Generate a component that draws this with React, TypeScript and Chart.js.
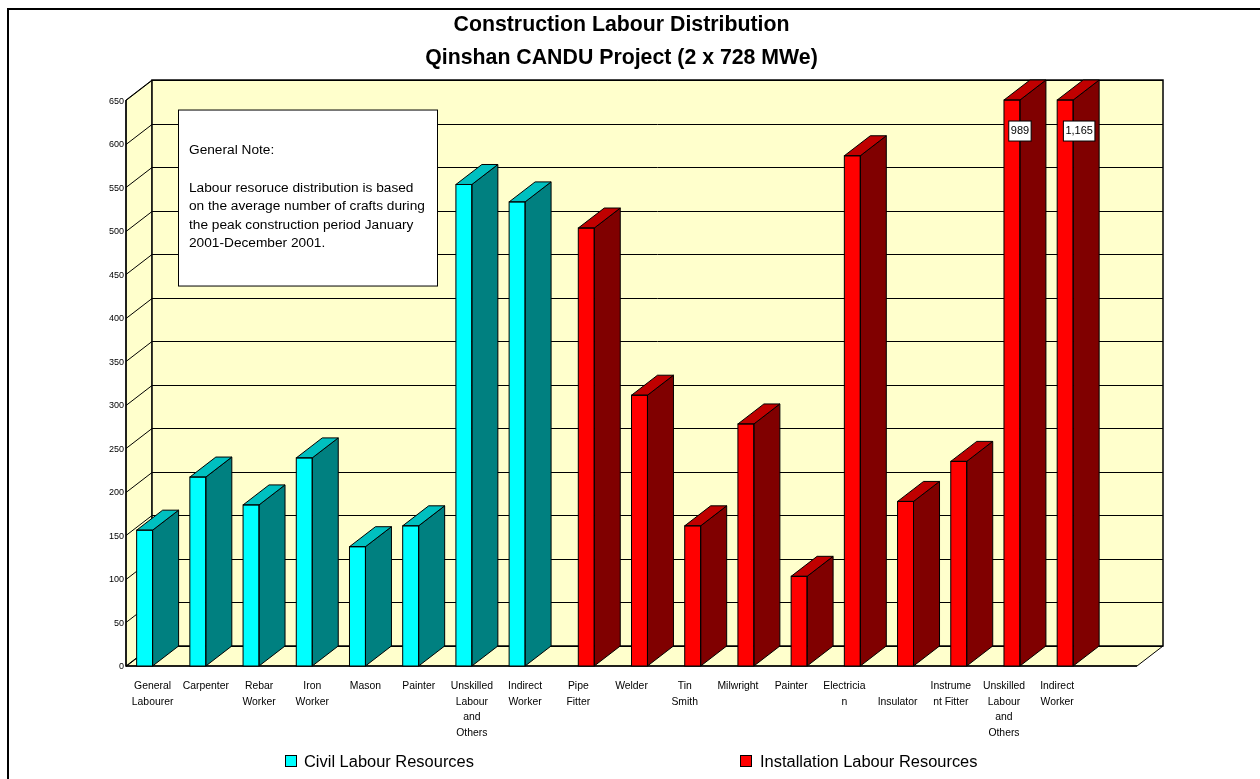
import React, { useEffect, useRef } from "react";
import { Chart, registerables } from "chart.js";

Chart.register(...registerables);

const categories: (string | string[])[] = [
  ["General", "Labourer"], "Carpenter", ["Rebar", "Worker"], ["Iron", "Worker"], "Mason", "Painter",
  ["Unskilled", "Labour", "and", "Others"], ["Indirect", "Worker"],
  ["Pipe", "Fitter"], "Welder", ["Tin", "Smith"], "Milwright", "Painter", ["Electricia", "n"],
  ["", "Insulator"], ["Instrume", "nt Fitter"], ["Unskilled", "Labour", "and", "Others"], ["Indirect", "Worker"],
  "",
];
const civilValues = [156, 217, 185, 239, 137, 161, 553, 533, null, null, null, null, null, null, null, null, null, null, null];
const installationValues = [null, null, null, null, null, null, null, null, 503, 311, 161, 278, 103, 586, 189, 235, 989, 1165, null];
const titleLines = ["Construction Labour Distribution", "Qinshan CANDU Project (2 x 728 MWe)"];
const noteLines = [
  "General Note:",
  "",
  "Labour resoruce distribution is based",
  "on the average number of crafts during",
  "the peak construction period January",
  "2001-December 2001.",
];
const seriesNames = ["Civil Labour Resources", "Installation Labour Resources"];

const FONT = "'Liberation Sans', Arial, sans-serif";
const DX = 26;
const DY = -20;
const WALL = "#FFFFCC";
const sideColors = ["#008080", "#800000"];
const topColors = ["#00C0C0", "#C00000"];

function poly(ctx: CanvasRenderingContext2D, pts: number[][], fill: string | null, lw = 1) {
  ctx.beginPath();
  pts.forEach((p, i) => (i ? ctx.lineTo(p[0], p[1]) : ctx.moveTo(p[0], p[1])));
  ctx.closePath();
  if (fill) {
    ctx.fillStyle = fill;
    ctx.fill();
  }
  ctx.lineWidth = lw;
  ctx.strokeStyle = "#000";
  ctx.stroke();
}

const plugin3d = {
  id: "plugin3d",
  afterLayout(chart: any) {
    // the title is centred on the drawing, not on the plot area
    if (chart.titleBlock) {
      chart.titleBlock.left += 53;
      chart.titleBlock.right += 53;
    }
  },
  beforeDraw(chart: any) {
    const { ctx } = chart;
    ctx.save();
    ctx.lineWidth = 2;
    ctx.strokeStyle = "#000";
    ctx.beginPath();
    ctx.moveTo(8, 779);
    ctx.lineTo(8, 9);
    ctx.lineTo(1260, 9);
    ctx.stroke();
    ctx.restore();
  },
  beforeDatasetsDraw(chart: any) {
    const { ctx, chartArea: a, scales } = chart;
    const y = scales.y;
    ctx.save();
    // floor, left wall, back wall
    poly(ctx, [[a.left, a.bottom], [a.right, a.bottom], [a.right + DX, a.bottom + DY], [a.left + DX, a.bottom + DY]], WALL);
    poly(ctx, [[a.left, a.top], [a.left + DX, a.top + DY], [a.left + DX, a.bottom + DY], [a.left, a.bottom]], WALL);
    ctx.fillStyle = WALL;
    ctx.fillRect(a.left + DX, a.top + DY, a.right - a.left, a.bottom - a.top);
    ctx.strokeStyle = "#000";
    ctx.lineWidth = 1;
    y.ticks.forEach((t: any) => {
      const py = Math.round(y.getPixelForValue(t.value)) + 0.5;
      ctx.beginPath();
      ctx.moveTo(a.left, py);
      ctx.lineTo(a.left + DX, py + DY);
      ctx.lineTo(a.right + DX, py + DY);
      ctx.stroke();
    });
    ctx.lineWidth = 1.5;
    ctx.strokeRect(a.left + DX, a.top + DY, a.right - a.left, a.bottom - a.top);
    ctx.beginPath();
    ctx.moveTo(a.left, a.top);
    ctx.lineTo(a.left, a.bottom);
    ctx.lineTo(a.right, a.bottom);
    ctx.stroke();
    ctx.restore();
  },
  afterDatasetsDraw(chart: any) {
    const { ctx, chartArea: a } = chart;
    ctx.save();
    chart.data.datasets.forEach((ds: any, di: number) => {
      chart.getDatasetMeta(di).data.forEach((bar: any, i: number) => {
        if (ds.data[i] == null) return;
        const p = bar.getProps(["x", "y", "width", "base"], true);
        const l = p.x - p.width / 2;
        const r = p.x + p.width / 2;
        const top = Math.max(p.y, a.top);
        poly(ctx, [[r, top], [r + DX, top + DY], [r + DX, p.base + DY], [r, p.base]], sideColors[di]);
        poly(ctx, [[l, top], [l + DX, top + DY], [r + DX, top + DY], [r, top]], topColors[di]);
        ctx.lineWidth = 1;
        ctx.strokeStyle = "#000";
        ctx.strokeRect(l, top, p.width, p.base - top);
        // values above the axis are written on the bar
        if (ds.data[i] > chart.scales.y.max) {
          const label = ds.data[i].toLocaleString("en-US");
          ctx.font = `11px ${FONT}`;
          const w = ctx.measureText(label).width + 4;
          const cx = ds.data[i] > 1000 ? r + 6 : r;
          const cy = a.top + 31;
          ctx.fillStyle = "#fff";
          ctx.fillRect(cx - w / 2, cy - 10, w, 20);
          ctx.strokeRect(cx - w / 2, cy - 10, w, 20);
          ctx.fillStyle = "#000";
          ctx.textAlign = "center";
          ctx.textBaseline = "middle";
          ctx.fillText(label, cx, cy);
        }
      });
    });
    ctx.restore();
  },
  afterDraw(chart: any) {
    const { ctx, chartArea: a } = chart;
    ctx.save();
    // note box
    const nx = a.left + 52.5;
    const ny = a.top + 10;
    ctx.fillStyle = "#fff";
    ctx.fillRect(nx, ny, 259, 176);
    ctx.strokeStyle = "#000";
    ctx.lineWidth = 1;
    ctx.strokeRect(nx, ny, 259, 176);
    ctx.fillStyle = "#000";
    ctx.font = `13.7px ${FONT}`;
    ctx.textAlign = "left";
    ctx.textBaseline = "middle";
    noteLines.forEach((t, i) => ctx.fillText(t, nx + 10.5, ny + 40.5 + i * 18.6));
    // legend
    const legendX = [285, 740];
    chart.data.datasets.forEach((ds: any, di: number) => {
      ctx.fillStyle = ds.backgroundColor;
      ctx.fillRect(legendX[di] + 0.5, 755.5, 11, 11);
      ctx.strokeRect(legendX[di] + 0.5, 755.5, 11, 11);
      ctx.fillStyle = "#000";
      ctx.font = `16.45px ${FONT}`;
      ctx.fillText(ds.label, legendX[di] + (di ? 20 : 19), 762);
    });
    ctx.restore();
  },
};

export default function App() {
  const ref = useRef<HTMLCanvasElement>(null);
  useEffect(() => {
    const chart = new Chart(ref.current as HTMLCanvasElement, {
      type: "bar",
      data: {
        labels: categories as any,
        datasets: [
          { label: seriesNames[0], data: civilValues, backgroundColor: "#00FFFF" },
          { label: seriesNames[1], data: installationValues, backgroundColor: "#FF0000" },
        ],
      },
      plugins: [plugin3d as any],
      options: {
        animation: false,
        responsive: false,
        layout: { padding: { left: 0, right: 123, top: 0, bottom: 0 } },
        datasets: { bar: { categoryPercentage: 0.6, barPercentage: 1 } },
        plugins: {
          legend: { display: false },
          tooltip: { enabled: false },
          title: {
            display: true,
            text: titleLines,
            color: "#000",
            font: { family: FONT, size: 21.3, weight: "bold", lineHeight: 1.55 },
            padding: { top: 9, bottom: 25 },
            align: "center",
          },
        },
        scales: {
          x: {
            grid: { display: false, drawTicks: false },
            border: { display: false },
            afterFit: (s: any) => { s.height = 113; },
            ticks: {
              autoSkip: false, maxRotation: 0, minRotation: 0, padding: 12, color: "#000",
              font: { family: FONT, size: 10.4, lineHeight: 1.52 },
            },
          },
          y: {
            min: 0, max: 650,
            grid: { display: false, drawTicks: false },
            border: { display: false },
            afterFit: (s: any) => { s.width = 126; },
            ticks: {
              stepSize: 50, padding: 2, color: "#000", labelOffset: 1,
              font: { family: FONT, size: 9 },
            },
          },
        },
      } as any,
    });
    return () => chart.destroy();
  }, []);
  return (
    <div style={{ position: "fixed", left: 0, top: 0, width: 1260, height: 779, background: "#fff" }}>
      <canvas ref={ref} width={1260} height={779} style={{ display: "block" }} />
    </div>
  );
}
